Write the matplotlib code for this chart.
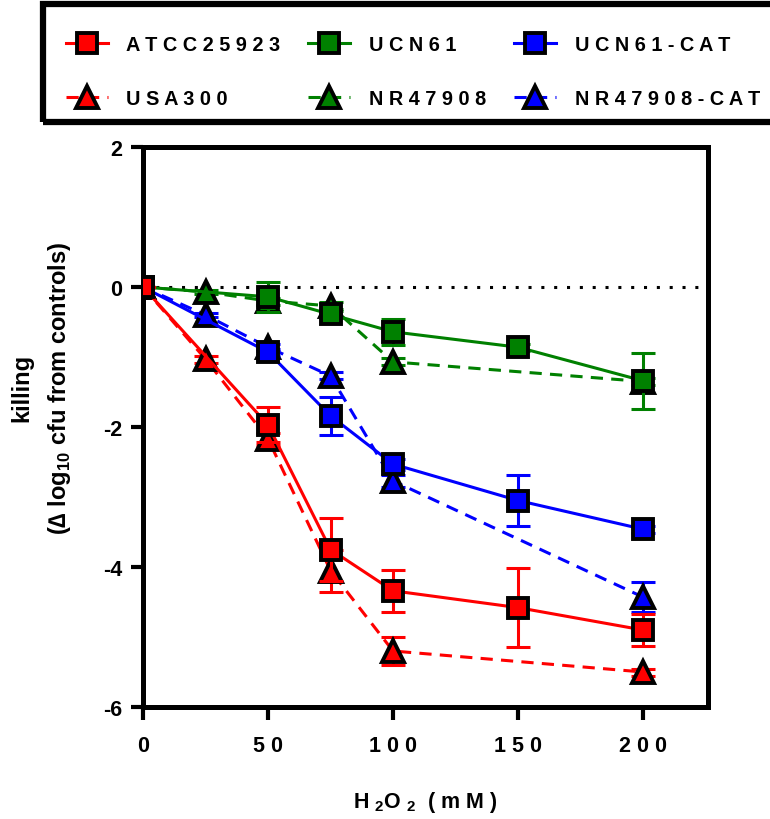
import matplotlib
matplotlib.use("Agg")
import matplotlib.pyplot as plt
from matplotlib.patches import Rectangle

plt.rcParams['font.family'] = ['Liberation Sans', 'DejaVu Sans']
plt.rcParams['font.weight'] = 'bold'
plt.rcParams['axes.labelweight'] = 'bold'
plt.rcParams['axes.unicode_minus'] = False
plt.rcParams['mathtext.fontset'] = 'custom'
plt.rcParams['mathtext.rm'] = 'Liberation Sans:bold'
plt.rcParams['mathtext.bf'] = 'Liberation Sans:bold'

# H2O2 concentration (mM)
x_sq = [0, 50, 75, 100, 150, 200]
x_tri = [0, 25, 50, 75, 100, 200]

# change in log10 cfu, with error bars
atcc25923 = [0, -1.97, -3.75, -4.34, -4.58, -4.90]
atcc25923_err = [0, 0.25, 0.45, 0.30, 0.56, 0.23]
usa300 = [0, -1.03, -2.17, -4.05, -5.20, -5.50]
usa300_err = [0, 0.05, 0.08, 0.30, 0.20, 0.05]
ucn61 = [0, -0.14, -0.39, -0.64, -0.86, -1.34]
ucn61_err = [0, 0.21, 0.05, 0.19, 0.05, 0.40]
nr47908 = [0, -0.07, -0.20, -0.27, -1.07, -1.35]
nr47908_err = [0, 0.03, 0.05, 0.05, 0.05, 0.05]
ucn61_cat = [0, -0.93, -1.84, -2.53, -3.05, -3.46]
ucn61_cat_err = [0, 0.05, 0.27, 0.08, 0.37, 0.05]
nr47908_cat = [0, -0.40, -0.86, -1.27, -2.77, -4.43]
nr47908_cat_err = [0, 0.03, 0.05, 0.05, 0.08, 0.21]

x_ticks = [0, 50, 100, 150, 200]
y_ticks = [-6, -4, -2, 0, 2]


def spaced(s):
    return " ".join(s)


fig = plt.figure(figsize=(7.7, 8.2), dpi=100)
ax = fig.add_axes([143 / 770, 1 - 708 / 820, 565 / 770, 560 / 820])

# drawn back to front, so ATCC25923 ends up on top
series = [
    ("NR47908-CAT", x_tri, nr47908_cat, nr47908_cat_err, "#0000ff", "^", "--"),
    ("UCN61-CAT", x_sq, ucn61_cat, ucn61_cat_err, "#0000ff", "s", "-"),
    ("NR47908", x_tri, nr47908, nr47908_err, "#008000", "^", "--"),
    ("UCN61", x_sq, ucn61, ucn61_err, "#008000", "s", "-"),
    ("USA300", x_tri, usa300, usa300_err, "#ff0000", "^", "--"),
    ("ATCC25923", x_sq, atcc25923, atcc25923_err, "#ff0000", "s", "-"),
]

ax.plot([0, 226], [0, 0], color="black", lw=2.2, linestyle=(0, (1, 3.2)), zorder=1)

handles = {}
z = 2
for name, xs, ys, err, color, marker, ls in series:
    ax.errorbar(xs, ys, yerr=err, fmt="none", ecolor=color, elinewidth=2.2,
                capsize=8.5, capthick=2.2, zorder=z)
    line, = ax.plot(xs, ys, color=color, lw=2.2, marker=marker,
                    markersize=15 if marker == "s" else 16,
                    markerfacecolor=color, markeredgecolor="black",
                    markeredgewidth=2.8, zorder=z + 1)
    if ls == "--":
        line.set_dashes((4, 2.7))
    handles[name] = line
    z += 2

ax.set_xlim(0, 226)
ax.set_ylim(-6, 2)
ax.set_xticks(x_ticks)
ax.set_xticklabels([spaced(str(v)) for v in x_ticks])
ax.set_yticks(y_ticks)
ax.set_yticklabels([str(v) for v in y_ticks])
ax.tick_params(direction="out", length=9, width=3, labelsize=15.5)
ax.tick_params(axis="x", pad=11)
ax.tick_params(axis="y", pad=6)
for s in ax.spines.values():
    s.set_linewidth(3.6)

ax.set_xlabel("H $_2$O $_2$  ( m M )", fontsize=15.5, fontweight="bold", labelpad=24)
fig.text(42 / 770, 1 - 388 / 820,
         "killing\n(\u2206 log$_{10}$ cfu from controls)",
         rotation=90, ha="center", va="center", multialignment="center",
         fontsize=17, fontweight="bold", linespacing=1.65)

# legend frame, running off the right edge like the reference
fig.patches.append(Rectangle((43 / 770, 1 - 123 / 820), 1.0, 118 / 820,
                             transform=fig.transFigure, fill=False,
                             lw=4.5, edgecolor="black"))
order = ["ATCC25923", "USA300", "UCN61", "NR47908", "UCN61-CAT", "NR47908-CAT"]
fig.legend([handles[k] for k in order], [spaced(k) for k in order],
           loc="upper left", bbox_to_anchor=(48 / 770, 1 - 18 / 820),
           ncol=3, frameon=False, fontsize=14.3, handlelength=2.1,
           handletextpad=0.95, columnspacing=1.4, labelspacing=1.75)

fig.savefig("out.png", dpi=100)
